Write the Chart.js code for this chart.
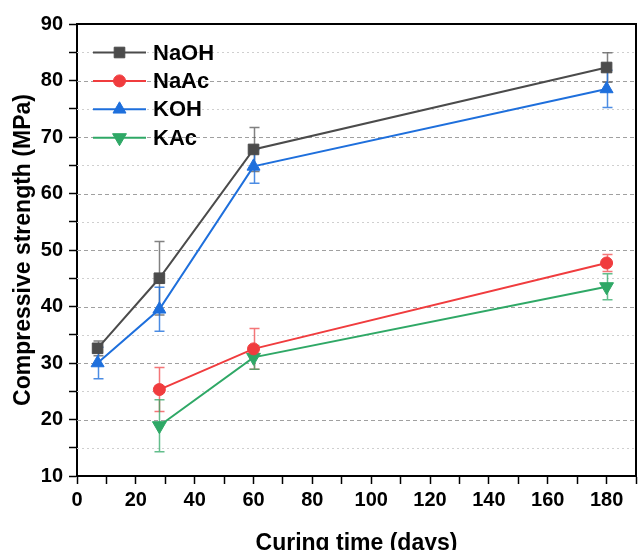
<!DOCTYPE html>
<html>
<head>
<meta charset="utf-8">
<script src="https://cdn.jsdelivr.net/npm/chart.js@4/dist/chart.umd.min.js"></script>
<style>
  html, body { margin: 0; padding: 0; background: #ffffff; }
  #wrap { width: 638px; height: 550px; }
</style>
</head>
<body>
<div id="wrap"><canvas id="c" width="638" height="550"></canvas></div>
<script>
// Curing ages (days)
const daysHydroxide = [7, 28, 60, 180];
const daysAcetate = [28, 60, 180];

// Mean compressive strength (MPa) and standard deviation per activator
const naohStrength = [32.6, 45.0, 67.8, 82.3];
const naohError    = [1.3, 6.5, 3.9, 2.6];
const naacStrength = [25.3, 32.5, 47.7];
const naacError    = [3.9, 3.6, 1.5];
const kohStrength  = [30.0, 39.5, 64.8, 78.5];
const kohError     = [2.8, 3.9, 3.0, 3.3];
const kacStrength  = [18.9, 31.0, 43.5];
const kacError     = [4.6, 2.1, 2.3];

// Axis tick values
const xTickLabels = [0, 20, 40, 60, 80, 100, 120, 140, 160, 180];
const yTickLabels = [10, 20, 30, 40, 50, 60, 70, 80, 90];

const FONT = "'Liberation Sans', Arial, Helvetica, sans-serif";

function pts(xs, ys) { return xs.map((x, i) => ({ x: x, y: ys[i] })); }

const datasets = [
  { label: 'NaOH', data: pts(daysHydroxide, naohStrength), err: naohError,
    borderColor: '#4b4b4b', backgroundColor: '#4b4b4b', errColor: 'rgba(75,75,75,0.7)',
    pointStyle: 'rect', pointRadius: 7.5, pointRotation: 0 },
  { label: 'NaAc', data: pts(daysAcetate, naacStrength), err: naacError,
    borderColor: '#f03c3e', backgroundColor: '#f03c3e', errColor: 'rgba(240,60,62,0.7)',
    pointStyle: 'circle', pointRadius: 6, pointRotation: 0 },
  { label: 'KOH', data: pts(daysHydroxide, kohStrength), err: kohError,
    borderColor: '#1e6fdc', backgroundColor: '#1e6fdc', errColor: 'rgba(30,111,220,0.8)',
    pointStyle: 'triangle', pointRadius: 7.5, pointRotation: 0 },
  { label: 'KAc', data: pts(daysAcetate, kacStrength), err: kacError,
    borderColor: '#2fa866', backgroundColor: '#2fa866', errColor: 'rgba(47,168,102,0.75)',
    pointStyle: 'triangle', pointRadius: 8, pointRotation: 180 }
].map(d => Object.assign(d, {
  borderWidth: 2, pointBorderWidth: 1, pointHoverRadius: d.pointRadius,
  pointBorderColor: d.borderColor, pointBackgroundColor: d.backgroundColor,
  tension: 0, fill: false
}));

// Horizontal reference lines: dashed at every 10 MPa, dotted halfway between
const gridPlugin = {
  id: 'hgrid',
  beforeDatasetsDraw(chart) {
    const { ctx, chartArea: a, scales: { y } } = chart;
    ctx.save();
    for (let v = 15; v < 90; v += 5) {
      const py = Math.round(y.getPixelForValue(v)) + 0.5;
      const major = v % 10 === 0;
      ctx.strokeStyle = major ? '#a0a0a0' : '#cfcfcf';
      ctx.lineWidth = 1.2;
      ctx.setLineDash(major ? [4, 3] : [2, 3]);
      ctx.beginPath();
      ctx.moveTo(a.left, py);
      ctx.lineTo(a.right, py);
      ctx.stroke();
    }
    ctx.restore();
  }
};

// Vertical error bars with caps, drawn under the markers
const errorBarPlugin = {
  id: 'errbars',
  beforeDatasetsDraw(chart) {
    const { ctx, scales: { x, y } } = chart;
    ctx.save();
    ctx.setLineDash([]);
    chart.data.datasets.forEach(ds => {
      ctx.strokeStyle = ds.errColor;
      ctx.lineWidth = 1.5;
      ds.data.forEach((p, i) => {
        const px = Math.round(x.getPixelForValue(p.x)) + 0.5;
        const top = y.getPixelForValue(p.y + ds.err[i]);
        const bot = y.getPixelForValue(p.y - ds.err[i]);
        const cap = 5;
        ctx.beginPath();
        ctx.moveTo(px, top); ctx.lineTo(px, bot);
        ctx.moveTo(px - cap, top); ctx.lineTo(px + cap, top);
        ctx.moveTo(px - cap, bot); ctx.lineTo(px + cap, bot);
        ctx.stroke();
      });
    });
    ctx.restore();
  }
};

// Top and right frame lines, plus the in-plot legend
const framePlugin = {
  id: 'frame',
  afterDraw(chart) {
    const { ctx, chartArea: a } = chart;
    ctx.save();
    ctx.setLineDash([]);
    ctx.strokeStyle = '#000';
    ctx.lineWidth = 2;
    ctx.beginPath();
    ctx.moveTo(a.left, a.top);
    ctx.lineTo(a.right, a.top);
    ctx.lineTo(a.right, a.bottom);
    ctx.stroke();

    const x0 = a.left + 16, x1 = a.left + 69, mx = (x0 + x1) / 2;
    const y0 = a.top + 28.5, dy = 28.4;
    ctx.font = "bold 22px " + FONT;
    ctx.textBaseline = 'middle';
    ctx.textAlign = 'left';
    chart.data.datasets.forEach((ds, i) => {
      const yy = y0 + i * dy;
      ctx.strokeStyle = ds.borderColor;
      ctx.lineWidth = 2;
      ctx.beginPath();
      ctx.moveTo(x0, yy); ctx.lineTo(x1, yy);
      ctx.stroke();
      ctx.fillStyle = ds.backgroundColor;
      ctx.strokeStyle = ds.borderColor;
      ctx.lineWidth = 1;
      Chart.helpers.drawPoint(ctx, {
        pointStyle: ds.pointStyle, radius: ds.pointRadius,
        rotation: ds.pointRotation, borderWidth: 1
      }, mx, yy);
      ctx.fillStyle = '#000';
      ctx.fillText(ds.label, x1 + 7, yy + 1);
    });
    ctx.restore();
  }
};

const tickFont = { family: FONT, size: 20, weight: 'bold' };
const titleFont = { family: FONT, size: 23, weight: 'bold', lineHeight: 1 };

new Chart(document.getElementById('c'), {
  type: 'line',
  data: { datasets: datasets },
  options: {
    responsive: false,
    devicePixelRatio: 1,
    animation: false,
    events: [],
    layout: { autoPadding: false, padding: { top: 24, right: 2, left: 0, bottom: 0 } },
    plugins: { legend: { display: false }, tooltip: { enabled: false } },
    scales: {
      x: {
        type: 'linear', min: 0, max: 190,
        afterFit(s) { s.height = 74; s.paddingRight = 0; s.paddingLeft = 0; },
        ticks: {
          stepSize: 10, autoSkip: false, maxRotation: 0, padding: 4,
          color: '#000', font: tickFont,
          callback: v => xTickLabels.includes(v) ? String(v) : ''
        },
        grid: { drawOnChartArea: false, tickLength: 8, tickColor: '#000', tickWidth: 1.5 },
        border: { color: '#000', width: 2 },
        title: { display: true, text: 'Curing time (days)', color: '#000', font: titleFont,
                 padding: { top: 0, bottom: -5 } }
      },
      y: {
        type: 'linear', min: 10, max: 90,
        afterFit(s) { s.width = 77; },
        ticks: {
          stepSize: 5, autoSkip: false, padding: 6,
          color: '#000', font: tickFont,
          callback: v => yTickLabels.includes(v) ? String(v) : ''
        },
        grid: { drawOnChartArea: false, tickLength: 8, tickColor: '#000', tickWidth: 1.5 },
        border: { color: '#000', width: 2 },
        title: { display: true, text: 'Compressive strength (MPa)', color: '#000', font: titleFont,
                 padding: { top: 12, bottom: 0 } }
      }
    }
  },
  plugins: [gridPlugin, errorBarPlugin, framePlugin]
});
</script>
</body>
</html>
